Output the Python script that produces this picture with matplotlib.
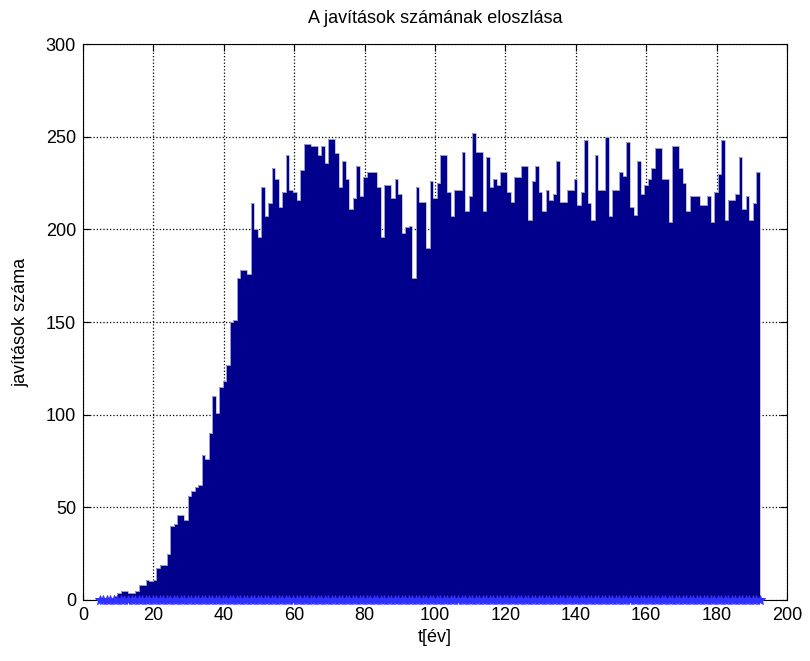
import numpy as np
import matplotlib
matplotlib.use('Agg')
import matplotlib.pyplot as plt

plt.rcParams['font.family'] = ['Liberation Sans Narrow', 'Liberation Sans', 'DejaVu Sans']

# hist bins (width ~1 year) and counts
bin_lo = 4.8
bin_hi = 192.3
counts = [1, 1, 1, 1, 2, 4, 5, 5, 4, 4,
          5, 8, 8, 11, 10, 11, 17, 19, 19, 25,
          40, 41, 46, 46, 43, 56, 59, 61, 62, 78,
          76, 90, 110, 101, 115, 118, 127, 150, 151, 174,
          178, 178, 176, 214, 200, 196, 223, 207, 214, 233,
          227, 212, 220, 240, 221, 220, 216, 232, 246, 246,
          245, 245, 240, 245, 236, 249, 249, 241, 223, 237,
          227, 211, 217, 234, 218, 228, 231, 231, 231, 223,
          196, 224, 224, 217, 227, 219, 198, 201, 202, 174,
          223, 215, 215, 190, 226, 217, 225, 240, 240, 220,
          207, 221, 221, 242, 210, 218, 252, 242, 242, 210,
          239, 223, 227, 224, 231, 231, 220, 215, 228, 228,
          234, 234, 205, 226, 234, 220, 210, 221, 216, 219,
          237, 215, 215, 221, 221, 227, 213, 220, 248, 214,
          205, 240, 221, 221, 250, 207, 221, 221, 231, 229,
          247, 212, 208, 237, 219, 224, 227, 233, 244, 244,
          227, 227, 204, 245, 245, 233, 225, 210, 218, 218,
          218, 213, 213, 218, 204, 220, 230, 248, 205, 216,
          216, 219, 239, 211, 218, 205, 214, 231]

title = 'A javítások számának eloszlása'
xlab = 't[év]'
ylab = 'javítások száma'

edges = np.linspace(bin_lo, bin_hi, len(counts) + 1)
centers = (edges[:-1] + edges[1:]) / 2
width = edges[1] - edges[0]

fig = plt.figure(figsize=(8.1, 6.61), dpi=100)
ax = fig.add_axes([0.1025, 0.0923, 0.8691, 0.8411])

ax.bar(centers, counts, width=width, color='#00008c', edgecolor='none', zorder=2)
ax.stairs(counts, edges, color='#b8b8e8', lw=0.6, zorder=3)
ax.plot(edges, np.zeros(len(edges)), ls='none', marker='*', ms=7, mew=0.7,
        color='#3030ff', clip_on=False, zorder=4)

ax.set_xlim(0, 200)
ax.set_ylim(0, 300)
ax.set_xticks(np.arange(0, 201, 20))
ax.set_yticks(np.arange(0, 301, 50))
ax.grid(True, color='black', ls=':', lw=0.9, zorder=1)
ax.set_axisbelow(True)
ax.tick_params(direction='in', top=True, right=True, length=5, labelsize=13, pad=5)

ax.set_title(title, fontsize=13, pad=15)
ax.set_xlabel(xlab, fontsize=13, labelpad=4)
ax.set_ylabel(ylab, fontsize=13, labelpad=12)

fig.savefig('out.png', dpi=100)
